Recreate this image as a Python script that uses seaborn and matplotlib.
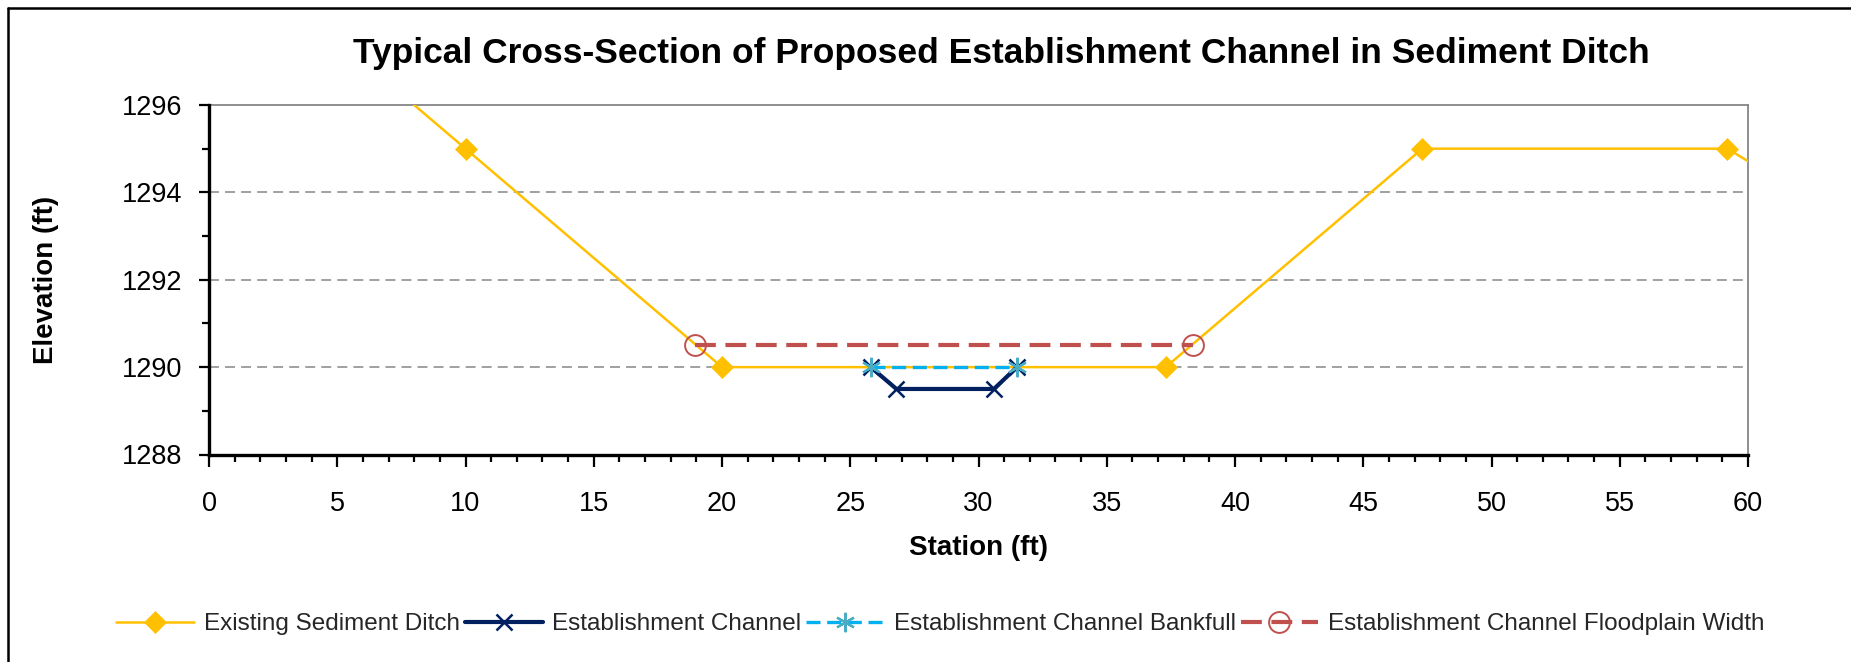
import numpy as np
import pandas as pd
import seaborn as sns
import matplotlib
matplotlib.use("Agg")
import matplotlib.pyplot as plt
from matplotlib.lines import Line2D
from matplotlib.ticker import MultipleLocator

# ---- data ----
ditch_x = [0, 10, 20, 37.3, 47.3, 59.2, 62]
ditch_y = [1300, 1295, 1290, 1290, 1295, 1295, 1294]
chan_x = [25.8, 26.8, 30.6, 31.5]
chan_y = [1290, 1289.5, 1289.5, 1290]
bank_x = [25.8, 31.5]
bank_y = [1290, 1290]
flood_x = [18.96, 38.38]
flood_y = [1290.5, 1290.5]

names = ["Existing Sediment Ditch", "Establishment Channel",
         "Establishment Channel Bankfull", "Establishment Channel Floodplain Width"]
x_ticks = list(range(0, 61, 5))
y_ticks = [1288, 1290, 1292, 1294, 1296]

sns.set_theme(style="white")
plt.rcParams['font.family'] = ['Liberation Sans', 'DejaVu Sans']

W, H = 1851, 662
fig = plt.figure(figsize=(W / 100, H / 100), dpi=100)
L, R, T, B = 209, 1748, 105, 454.5
ax = fig.add_axes([L / W, 1 - B / H, (R - L) / W, (B - T) / H])

gold = "#FFC000"
navy = "#002060"
cyan = "#00B0F0"
teal = "#4BACC6"
red = "#C0504D"

sns.lineplot(x=ditch_x, y=ditch_y, ax=ax, sort=False, estimator=None,
             color=gold, linewidth=1.8, marker="D", markersize=11,
             markeredgecolor=gold, markerfacecolor=gold, markeredgewidth=0.5,
             label=names[0], zorder=3)
sns.lineplot(x=chan_x, y=chan_y, ax=ax, sort=False, estimator=None,
             color=navy, linewidth=3.0, marker="x", markersize=11,
             markeredgecolor=navy, markeredgewidth=1.8,
             label=names[1], zorder=4)
sns.lineplot(x=bank_x, y=bank_y, ax=ax, sort=False, estimator=None,
             color=cyan, linewidth=2.4, linestyle=(0, (4.2, 2.0)),
             marker=(6, 2, 0), markersize=14, markeredgecolor=teal,
             markeredgewidth=1.6, label=names[2], zorder=5)
sns.lineplot(x=flood_x, y=flood_y, ax=ax, sort=False, estimator=None,
             color=red, linewidth=3.0, linestyle=(0, (5.0, 2.3)),
             marker="o", markersize=15, markerfacecolor="none",
             markeredgecolor=red, markeredgewidth=1.4,
             label=names[3], zorder=5)

ax.set_xlim(0, 60)
ax.set_ylim(1288, 1296)
ax.set_xticks(x_ticks)
ax.set_yticks(y_ticks)
ax.xaxis.set_minor_locator(MultipleLocator(1))
ax.yaxis.set_minor_locator(MultipleLocator(1))
ax.set_xticklabels([str(v) for v in x_ticks])
ax.set_yticklabels([str(v) for v in y_ticks])

ax.grid(False)
for yv in [1290, 1292, 1294]:
    ax.axhline(yv, color="#868686", linewidth=1.1, linestyle=(0, (6.5, 4)), zorder=1)

for s in ["left", "bottom"]:
    ax.spines[s].set_color("black")
    ax.spines[s].set_linewidth(2.4)
    ax.spines[s].set_zorder(6)
for s in ["top", "right"]:
    ax.spines[s].set_color("#868686")
    ax.spines[s].set_linewidth(1.3)
    ax.spines[s].set_visible(True)

ax.tick_params(axis="both", which="major", direction="out", length=7, width=1.6,
               color="black", labelsize=19.5, labelcolor="black")
ax.tick_params(axis="both", which="minor", direction="out", length=5, width=1.6,
               color="black")
ax.tick_params(axis="x", which="major", length=8.5, pad=18, bottom=True, top=False)
ax.tick_params(axis="x", which="minor", bottom=True, top=False)
ax.tick_params(axis="y", which="major", pad=12, left=True, right=False)
ax.tick_params(axis="y", which="minor", left=True, right=False)

ax.set_xlabel("Station (ft)", fontsize=20, fontweight="bold", color="black")
ax.set_ylabel("Elevation (ft)", fontsize=20, fontweight="bold", color="black")
ax.xaxis.label.set_va("center")
ax.yaxis.label.set_va("center")
ax.xaxis.set_label_coords(0.5, (B - 548) / (B - T))
ax.yaxis.set_label_coords((46 - L) / (R - L), 0.5)

fig.text(1001 / W, 1 - 54 / H,
         "Typical Cross-Section of Proposed Establishment Channel in Sediment Ditch",
         ha="center", va="center", fontsize=25.5, fontweight="bold",
         family=["Liberation Sans", "DejaVu Sans"], color="black")

leg = ax.legend(loc="center", bbox_to_anchor=(940.5 / W, 1 - 624 / H),
                bbox_transform=fig.transFigure, ncol=4, frameon=False,
                fontsize=17.5, handlelength=3.2, handletextpad=0.4,
                columnspacing=0.2, numpoints=1)

# chart-area border (top and left visible)
fig.add_artist(Line2D([8 / W, 8 / W], [0, 1 - 8 / H], transform=fig.transFigure,
                      color="black", linewidth=1.8))
fig.add_artist(Line2D([8 / W, 1], [1 - 8 / H, 1 - 8 / H], transform=fig.transFigure,
                      color="black", linewidth=1.8))

fig.savefig("out.png", dpi=100)
